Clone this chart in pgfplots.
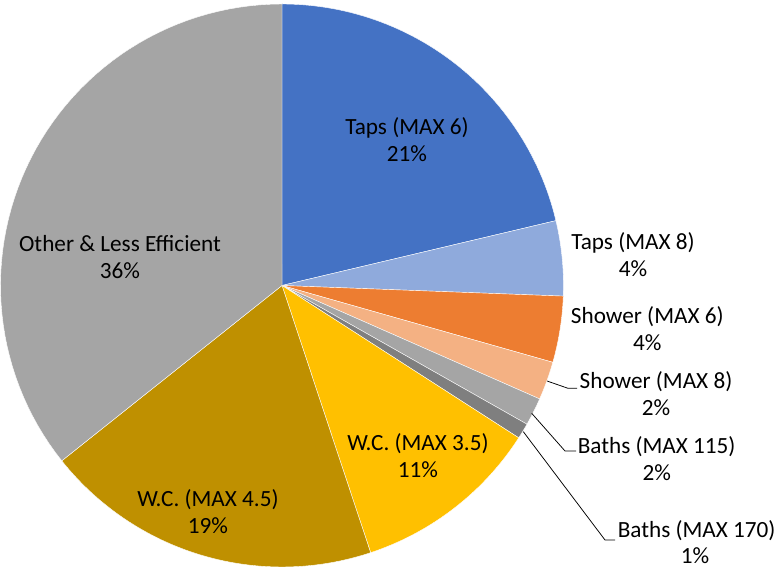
\documentclass[border=0pt]{standalone}
\usepackage{pgfplots}
\pgfplotsset{compat=1.18}
\usepackage{fontspec}
\setmainfont{Carlito}
\definecolor{cA}{HTML}{4472C4}
\definecolor{cB}{HTML}{8FAADC}
\definecolor{cC}{HTML}{ED7D31}
\definecolor{cD}{HTML}{F4B183}
\definecolor{cE}{HTML}{A5A5A5}
\definecolor{cF}{HTML}{7F7F7F}
\definecolor{cG}{HTML}{FFC000}
\definecolor{cH}{HTML}{BF9000}
\definecolor{cI}{HTML}{A5A5A5}
\tikzset{lbl/.style={font=\fontsize{23.2}{27}\selectfont, text=black, inner sep=0pt, anchor=base}}
% slice values (percent)
\def\vA{21.3}\def\vB{4.3}\def\vC{3.8}\def\vD{2.2}\def\vE{1.6}
\def\vF{0.9}\def\vG{10.8}\def\vH{19.4}\def\vI{35.7}
\pgfmathsetmacro\aA{0}
\pgfmathsetmacro\aB{\aA+3.6*\vA}
\pgfmathsetmacro\aC{\aB+3.6*\vB}
\pgfmathsetmacro\aD{\aC+3.6*\vC}
\pgfmathsetmacro\aE{\aD+3.6*\vD}
\pgfmathsetmacro\aF{\aE+3.6*\vE}
\pgfmathsetmacro\aG{\aF+3.6*\vF}
\pgfmathsetmacro\aH{\aG+3.6*\vG}
\pgfmathsetmacro\aI{\aH+3.6*\vH}
\pgfmathsetmacro\aJ{\aI+3.6*\vI}
\def\cx{282}\def\cy{283.5}\def\rr{281.5}
\newcommand{\slice}[3]{%
  \addplot[fill=#1, draw=white, line width=0.4pt, domain=#2:#3, samples=60, variable=\t]
    ({\cx+\rr*sin(\t)},{\cy+\rr*cos(\t)}) -- (axis cs:\cx,\cy) -- cycle;}
\newcommand{\lbl}[6]{%
  \node[lbl] at (axis cs:#1,#3) {#5};
  \node[lbl] at (axis cs:#2,#4) {#6};}
\begin{document}
\begin{tikzpicture}
\begin{axis}[
  at={(0,0)}, anchor=south west,
  scale only axis, width=780pt, height=569pt,
  xmin=0, xmax=780, ymin=0, ymax=569,
  hide axis, clip=false,
]
\slice{cA}{\aA}{\aB}
\slice{cB}{\aB}{\aC}
\slice{cC}{\aC}{\aD}
\slice{cD}{\aD}{\aE}
\slice{cE}{\aE}{\aF}
\slice{cF}{\aF}{\aG}
\slice{cG}{\aG}{\aH}
\slice{cH}{\aH}{\aI}
\slice{cI}{\aI}{\aJ}
% leader lines
\addplot[black, line width=0.75pt] coordinates {(547,188) (568,180.7) (577,180.7)};
\addplot[black, line width=0.75pt] coordinates {(531.7,155.7) (565,118) (576,118)};
\addplot[black, line width=0.75pt] coordinates {(523.3,137.3) (605,29) (615,29)};
% labels
\lbl{407}{407}{434}{407}{Taps (MAX 6)}{21\%}
\lbl{120}{120}{317}{290}{Other \& Less Efficient}{36\%}
\lbl{208}{208}{62.3}{35.3}{W.C. (MAX 4.5)}{19\%}
\lbl{418}{418}{118}{91}{W.C. (MAX 3.5)}{11\%}
\lbl{633}{633}{319}{292}{Taps (MAX 8)}{4\%}
\lbl{647.3}{647.3}{245.7}{218.7}{Shower (MAX 6)}{4\%}
\lbl{656}{656}{180.7}{153.7}{Shower (MAX 8)}{2\%}
\lbl{656.7}{656.7}{115.7}{88.7}{Baths (MAX 115)}{2\%}
\lbl{696.7}{695}{31.5}{5.5}{Baths (MAX 170)}{1\%}
\end{axis}
\pgfresetboundingbox
\path (0,0) rectangle (780pt,569pt);
\end{tikzpicture}
\end{document}
